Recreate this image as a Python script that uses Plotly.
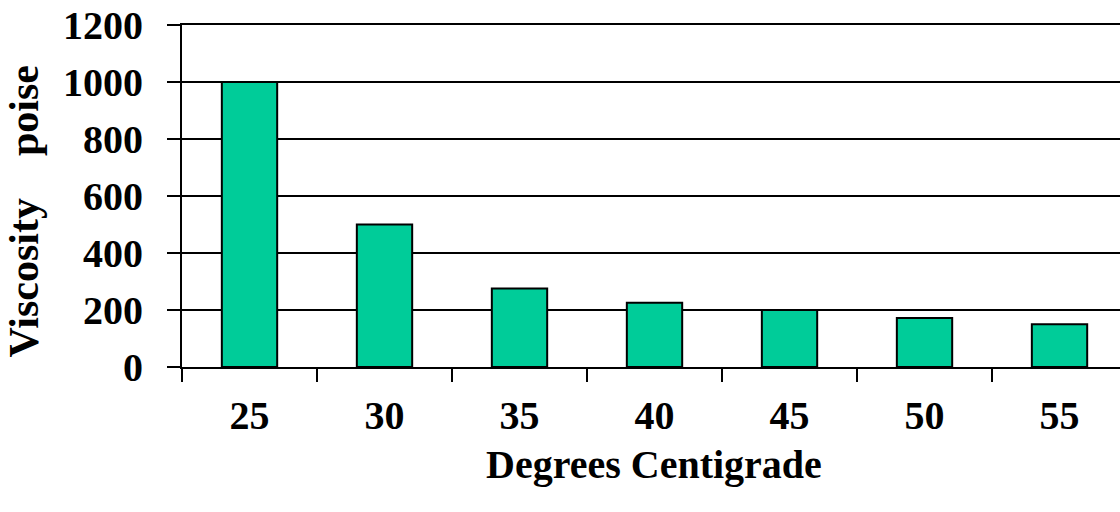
import plotly.graph_objects as go

# Viscosity of the sample at each temperature
temperatures = ["25", "30", "35", "40", "45", "50", "55"]
viscosity_poise = [1000, 500, 275, 225, 200, 172, 150]
y_ticks = [0, 200, 400, 600, 800, 1000, 1200]

FONT = "Liberation Serif, Times New Roman, serif"
SIZE = 40

fig = go.Figure(
    go.Bar(
        x=temperatures,
        y=viscosity_poise,
        marker=dict(color="#00CC99", line=dict(color="black", width=2)),
    )
)

fig.update_layout(
    width=1120,
    height=512,
    margin=dict(l=182, r=0, t=25, b=145),
    paper_bgcolor="white",
    plot_bgcolor="white",
    bargap=0.59,
    showlegend=False,
    font=dict(family=FONT, size=SIZE, color="black"),
)

fig.update_xaxes(
    type="category",
    range=[-0.5, 6.448],
    tickson="boundaries",
    ticks="outside",
    ticklen=13,
    tickwidth=2,
    tickcolor="black",
    ticklabelstandoff=12,
    showline=True,
    linecolor="black",
    linewidth=2,
    mirror=True,
    showgrid=False,
    tickfont=dict(family=FONT, size=SIZE, color="black", weight="bold"),
)

fig.update_yaxes(
    range=[0, 1200],
    tickvals=y_ticks,
    ticks="outside",
    ticklen=13,
    tickwidth=2,
    tickcolor="black",
    ticklabelstandoff=16,
    showline=True,
    linecolor="black",
    linewidth=2,
    showgrid=True,
    gridcolor="black",
    gridwidth=2,
    zeroline=False,
    tickfont=dict(family=FONT, size=SIZE, color="black", weight="bold"),
)

# Axis titles
fig.add_annotation(
    text="<b>Degrees Centigrade</b>",
    xref="paper", yref="paper",
    x=0.503, y=-0.285,
    xanchor="center", yanchor="middle",
    showarrow=False,
    font=dict(family=FONT, size=SIZE, color="black"),
)
fig.add_annotation(
    text="<b>Viscosity" + "\u00a0" * 4 + "poise</b>",
    xref="paper", yref="paper",
    x=-0.168, y=0.456,
    xanchor="center", yanchor="middle",
    textangle=-90,
    showarrow=False,
    font=dict(family=FONT, size=42, color="black"),
)

fig.write_html("out.html")
